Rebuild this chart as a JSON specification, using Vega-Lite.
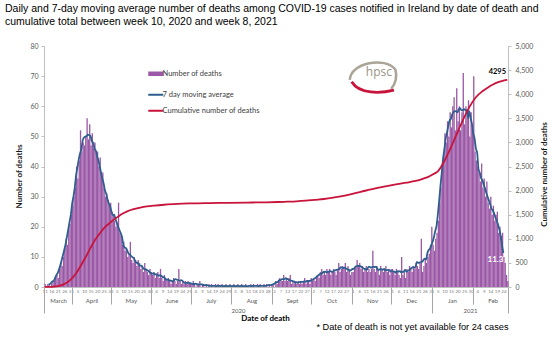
{
"$schema":"https://vega.github.io/schema/vega-lite/v6.json",
"width":464,"height":241,
"autosize":{"type":"none"},
"padding":{"left":44,"top":46,"right":44,"bottom":51},
"background":"white",
"config":{"view":{"stroke":null},"axis":{"grid":false,"labelFont":"Lato","titleFont":"Lato"},"legend":{"labelFont":"Lato"},"text":{"font":"Lato"}},
"title":{"text":["Daily and 7-day moving average number of deaths among COVID-19 cases notified in Ireland by date of death and","cumulative total between week 10, 2020 and week 8, 2021"],"anchor":"start","frame":"group","dx":-39,"offset":15,"font":"Liberation Sans","fontSize":10.5,"fontWeight":"normal","color":"#000000","lineHeight":12.5},
"datasets":{
"daily":[
{"d":"2020-03-11","n":1},{"d":"2020-03-12","n":0},{"d":"2020-03-13","n":1},{"d":"2020-03-14","n":1,"ma":0.9},{"d":"2020-03-15","n":0,"ma":1.0},{"d":"2020-03-16","n":1,"ma":1.4},{"d":"2020-03-17","n":2,"ma":1.9},{"d":"2020-03-18","n":2,"ma":2.1},{"d":"2020-03-19","n":3,"ma":3.0},{"d":"2020-03-20","n":4,"ma":4.0},{"d":"2020-03-21","n":3,"ma":4.7},{"d":"2020-03-22","n":6,"ma":5.9},{"d":"2020-03-23","n":8,"ma":7.3},{"d":"2020-03-24","n":7,"ma":9.0},{"d":"2020-03-25","n":10,"ma":10.6},{"d":"2020-03-26","n":13,"ma":12.4},{"d":"2020-03-27","n":16,"ma":14.3},{"d":"2020-03-28","n":14,"ma":16.7},{"d":"2020-03-29","n":19,"ma":19.1},{"d":"2020-03-30","n":21,"ma":21.6},{"d":"2020-03-31","n":24,"ma":24.0},
{"d":"2020-04-01","n":27,"ma":27.7},{"d":"2020-04-02","n":30,"ma":30.1},{"d":"2020-04-03","n":33,"ma":33.1},{"d":"2020-04-04","n":40,"ma":37.1},{"d":"2020-04-05","n":36,"ma":39.7},{"d":"2020-04-06","n":42,"ma":42.3},{"d":"2020-04-07","n":52,"ma":44.3},{"d":"2020-04-08","n":45,"ma":45.7},{"d":"2020-04-09","n":48,"ma":48.6},{"d":"2020-04-10","n":47,"ma":49.6},{"d":"2020-04-11","n":50,"ma":49.9},{"d":"2020-04-12","n":56,"ma":50.1},{"d":"2020-04-13","n":49,"ma":50.6},{"d":"2020-04-14","n":54,"ma":50.4},{"d":"2020-04-15","n":47,"ma":50.1},{"d":"2020-04-16","n":51,"ma":48.4},{"d":"2020-04-17","n":46,"ma":47.9},{"d":"2020-04-18","n":48,"ma":45.9},{"d":"2020-04-19","n":44,"ma":45.3},{"d":"2020-04-20","n":45,"ma":43.3},{"d":"2020-04-21","n":40,"ma":42.1},{"d":"2020-04-22","n":43,"ma":40.0},{"d":"2020-04-23","n":37,"ma":38.0},{"d":"2020-04-24","n":38,"ma":36.0},{"d":"2020-04-25","n":33,"ma":34.4},{"d":"2020-04-26","n":30,"ma":32.1},{"d":"2020-04-27","n":31,"ma":30.9},{"d":"2020-04-28","n":29,"ma":29.0},{"d":"2020-04-29","n":27,"ma":27.7},{"d":"2020-04-30","n":28,"ma":26.6},
{"d":"2020-05-01","n":25,"ma":25.0},{"d":"2020-05-02","n":24,"ma":23.9},{"d":"2020-05-03","n":22,"ma":24.0},{"d":"2020-05-04","n":20,"ma":22.6},{"d":"2020-05-05","n":21,"ma":21.4},{"d":"2020-05-06","n":28,"ma":20.0},{"d":"2020-05-07","n":18,"ma":19.0},{"d":"2020-05-08","n":17,"ma":17.9},{"d":"2020-05-09","n":14,"ma":16.7},{"d":"2020-05-10","n":15,"ma":14.1},{"d":"2020-05-11","n":12,"ma":13.1},{"d":"2020-05-12","n":13,"ma":12.9},{"d":"2020-05-13","n":10,"ma":12.1},{"d":"2020-05-14","n":11,"ma":11.1},{"d":"2020-05-15","n":15,"ma":10.9},{"d":"2020-05-16","n":9,"ma":10.3},{"d":"2020-05-17","n":8,"ma":9.9},{"d":"2020-05-18","n":10,"ma":9.6},{"d":"2020-05-19","n":9,"ma":8.6},{"d":"2020-05-20","n":7,"ma":8.1},{"d":"2020-05-21","n":9,"ma":8.0},{"d":"2020-05-22","n":8,"ma":7.3},{"d":"2020-05-23","n":6,"ma":7.1},{"d":"2020-05-24","n":7,"ma":7.0},{"d":"2020-05-25","n":5,"ma":6.4},{"d":"2020-05-26","n":8,"ma":5.9},{"d":"2020-05-27","n":6,"ma":5.9},{"d":"2020-05-28","n":5,"ma":5.6},{"d":"2020-05-29","n":4,"ma":5.4},{"d":"2020-05-30","n":6,"ma":5.0},{"d":"2020-05-31","n":5,"ma":4.6},
{"d":"2020-06-01","n":4,"ma":4.4},{"d":"2020-06-02","n":5,"ma":4.6},{"d":"2020-06-03","n":3,"ma":4.1},{"d":"2020-06-04","n":4,"ma":4.3},{"d":"2020-06-05","n":5,"ma":4.1},{"d":"2020-06-06","n":3,"ma":3.7},{"d":"2020-06-07","n":6,"ma":3.9},{"d":"2020-06-08","n":3,"ma":3.7},{"d":"2020-06-09","n":2,"ma":3.3},{"d":"2020-06-10","n":4,"ma":3.3},{"d":"2020-06-11","n":3,"ma":2.7},{"d":"2020-06-12","n":2,"ma":2.4},{"d":"2020-06-13","n":3,"ma":2.4},{"d":"2020-06-14","n":2,"ma":2.3},{"d":"2020-06-15","n":1,"ma":2.1},{"d":"2020-06-16","n":2,"ma":2.0},{"d":"2020-06-17","n":3,"ma":1.9},{"d":"2020-06-18","n":2,"ma":2.4},{"d":"2020-06-19","n":1,"ma":2.6},{"d":"2020-06-20","n":2,"ma":2.4},{"d":"2020-06-21","n":6,"ma":2.3},{"d":"2020-06-22","n":2,"ma":2.1},{"d":"2020-06-23","n":1,"ma":2.3},{"d":"2020-06-24","n":2,"ma":2.1},{"d":"2020-06-25","n":1,"ma":1.6},{"d":"2020-06-26","n":2,"ma":1.4},{"d":"2020-06-27","n":1,"ma":1.4},{"d":"2020-06-28","n":2,"ma":1.3},{"d":"2020-06-29","n":1,"ma":1.4},{"d":"2020-06-30","n":1,"ma":1.3},
{"d":"2020-07-01","n":1,"ma":1.1},{"d":"2020-07-02","n":2,"ma":1.0},{"d":"2020-07-03","n":1,"ma":1.0},{"d":"2020-07-04","n":0,"ma":1.1},{"d":"2020-07-05","n":1,"ma":1.0},{"d":"2020-07-06","n":1,"ma":0.9},{"d":"2020-07-07","n":2,"ma":0.9},{"d":"2020-07-08","n":0,"ma":0.9},{"d":"2020-07-09","n":1,"ma":0.9},{"d":"2020-07-10","n":1,"ma":0.7},{"d":"2020-07-11","n":0,"ma":0.6},{"d":"2020-07-12","n":1,"ma":0.6},{"d":"2020-07-13","n":0,"ma":0.6},{"d":"2020-07-14","n":1,"ma":0.4},{"d":"2020-07-15","n":0,"ma":0.4},{"d":"2020-07-16","n":1,"ma":0.4},{"d":"2020-07-17","n":0,"ma":0.4},{"d":"2020-07-18","n":0,"ma":0.4},{"d":"2020-07-19","n":1,"ma":0.4},{"d":"2020-07-20","n":0,"ma":0.3},{"d":"2020-07-21","n":1,"ma":0.4},{"d":"2020-07-22","n":0,"ma":0.4},{"d":"2020-07-23","n":0,"ma":0.3},{"d":"2020-07-24","n":1,"ma":0.4},{"d":"2020-07-25","n":0,"ma":0.3},{"d":"2020-07-26","n":0,"ma":0.3},{"d":"2020-07-27","n":1,"ma":0.4},{"d":"2020-07-28","n":0,"ma":0.3},{"d":"2020-07-29","n":0,"ma":0.3},{"d":"2020-07-30","n":1,"ma":0.4},{"d":"2020-07-31","n":0,"ma":0.3},
{"d":"2020-08-01","n":0,"ma":0.3},{"d":"2020-08-02","n":1,"ma":0.4},{"d":"2020-08-03","n":0,"ma":0.3},{"d":"2020-08-04","n":0,"ma":0.3},{"d":"2020-08-05","n":1,"ma":0.4},{"d":"2020-08-06","n":0,"ma":0.3},{"d":"2020-08-07","n":0,"ma":0.3},{"d":"2020-08-08","n":1,"ma":0.4},{"d":"2020-08-09","n":0,"ma":0.3},{"d":"2020-08-10","n":0,"ma":0.3},{"d":"2020-08-11","n":1,"ma":0.3},{"d":"2020-08-12","n":0,"ma":0.3},{"d":"2020-08-13","n":0,"ma":0.3},{"d":"2020-08-14","n":0,"ma":0.4},{"d":"2020-08-15","n":1,"ma":0.3},{"d":"2020-08-16","n":0,"ma":0.3},{"d":"2020-08-17","n":1,"ma":0.4},{"d":"2020-08-18","n":0,"ma":0.4},{"d":"2020-08-19","n":0,"ma":0.4},{"d":"2020-08-20","n":1,"ma":0.4},{"d":"2020-08-21","n":0,"ma":0.3},{"d":"2020-08-22","n":1,"ma":0.4},{"d":"2020-08-23","n":0,"ma":0.4},{"d":"2020-08-24","n":0,"ma":0.4},{"d":"2020-08-25","n":1,"ma":0.4},{"d":"2020-08-26","n":0,"ma":0.4},{"d":"2020-08-27","n":1,"ma":0.4},{"d":"2020-08-28","n":0,"ma":0.6},{"d":"2020-08-29","n":1,"ma":0.6},{"d":"2020-08-30","n":0,"ma":0.6},{"d":"2020-08-31","n":1,"ma":0.7},
{"d":"2020-09-01","n":1,"ma":0.9},{"d":"2020-09-02","n":0,"ma":1.0},{"d":"2020-09-03","n":2,"ma":1.4},{"d":"2020-09-04","n":1,"ma":1.6},{"d":"2020-09-05","n":2,"ma":1.7},{"d":"2020-09-06","n":3,"ma":2.3},{"d":"2020-09-07","n":2,"ma":2.3},{"d":"2020-09-08","n":2,"ma":2.6},{"d":"2020-09-09","n":4,"ma":2.6},{"d":"2020-09-10","n":2,"ma":2.6},{"d":"2020-09-11","n":3,"ma":2.9},{"d":"2020-09-12","n":2,"ma":2.7},{"d":"2020-09-13","n":3,"ma":2.4},{"d":"2020-09-14","n":4,"ma":2.3},{"d":"2020-09-15","n":1,"ma":2.1},{"d":"2020-09-16","n":2,"ma":2.0},{"d":"2020-09-17","n":1,"ma":1.9},{"d":"2020-09-18","n":2,"ma":1.4},{"d":"2020-09-19","n":1,"ma":1.6},{"d":"2020-09-20","n":2,"ma":1.4},{"d":"2020-09-21","n":1,"ma":1.6},{"d":"2020-09-22","n":2,"ma":1.7},{"d":"2020-09-23","n":1,"ma":1.7},{"d":"2020-09-24","n":2,"ma":1.7},{"d":"2020-09-25","n":3,"ma":1.9},{"d":"2020-09-26","n":1,"ma":1.7},{"d":"2020-09-27","n":2,"ma":2.0},{"d":"2020-09-28","n":2,"ma":2.0},{"d":"2020-09-29","n":1,"ma":2.0},{"d":"2020-09-30","n":3,"ma":2.1},
{"d":"2020-10-01","n":2,"ma":2.3},{"d":"2020-10-02","n":3,"ma":2.6},{"d":"2020-10-03","n":2,"ma":2.9},{"d":"2020-10-04","n":3,"ma":3.1},{"d":"2020-10-05","n":4,"ma":3.7},{"d":"2020-10-06","n":3,"ma":3.9},{"d":"2020-10-07","n":5,"ma":4.3},{"d":"2020-10-08","n":6,"ma":4.4},{"d":"2020-10-09","n":4,"ma":4.7},{"d":"2020-10-10","n":5,"ma":5.0},{"d":"2020-10-11","n":4,"ma":5.1},{"d":"2020-10-12","n":6,"ma":4.9},{"d":"2020-10-13","n":5,"ma":5.0},{"d":"2020-10-14","n":6,"ma":5.1},{"d":"2020-10-15","n":4,"ma":5.3},{"d":"2020-10-16","n":5,"ma":5.0},{"d":"2020-10-17","n":6,"ma":5.1},{"d":"2020-10-18","n":5,"ma":5.4},{"d":"2020-10-19","n":4,"ma":5.6},{"d":"2020-10-20","n":6,"ma":5.7},{"d":"2020-10-21","n":8,"ma":5.9},{"d":"2020-10-22","n":5,"ma":6.0},{"d":"2020-10-23","n":6,"ma":6.6},{"d":"2020-10-24","n":7,"ma":6.4},{"d":"2020-10-25","n":6,"ma":6.3},{"d":"2020-10-26","n":8,"ma":6.4},{"d":"2020-10-27","n":5,"ma":6.1},{"d":"2020-10-28","n":7,"ma":5.9},{"d":"2020-10-29","n":6,"ma":5.7},{"d":"2020-10-30","n":4,"ma":5.4},{"d":"2020-10-31","n":5,"ma":5.7},
{"d":"2020-11-01","n":5,"ma":6.0},{"d":"2020-11-02","n":6,"ma":6.1},{"d":"2020-11-03","n":7,"ma":6.7},{"d":"2020-11-04","n":9,"ma":6.9},{"d":"2020-11-05","n":7,"ma":7.1},{"d":"2020-11-06","n":8,"ma":7.0},{"d":"2020-11-07","n":6,"ma":6.9},{"d":"2020-11-08","n":7,"ma":6.6},{"d":"2020-11-09","n":5,"ma":6.3},{"d":"2020-11-10","n":6,"ma":6.0},{"d":"2020-11-11","n":7,"ma":5.9},{"d":"2020-11-12","n":5,"ma":5.7},{"d":"2020-11-13","n":6,"ma":6.7},{"d":"2020-11-14","n":5,"ma":6.7},{"d":"2020-11-15","n":6,"ma":6.4},{"d":"2020-11-16","n":12,"ma":6.7},{"d":"2020-11-17","n":6,"ma":6.7},{"d":"2020-11-18","n":5,"ma":6.6},{"d":"2020-11-19","n":7,"ma":6.7},{"d":"2020-11-20","n":6,"ma":5.9},{"d":"2020-11-21","n":4,"ma":5.7},{"d":"2020-11-22","n":7,"ma":5.9},{"d":"2020-11-23","n":6,"ma":5.9},{"d":"2020-11-24","n":5,"ma":5.7},{"d":"2020-11-25","n":6,"ma":6.0},{"d":"2020-11-26","n":7,"ma":5.6},{"d":"2020-11-27","n":5,"ma":5.6},{"d":"2020-11-28","n":6,"ma":5.7},{"d":"2020-11-29","n":4,"ma":5.6},{"d":"2020-11-30","n":6,"ma":5.1},
{"d":"2020-12-01","n":6,"ma":5.3},{"d":"2020-12-02","n":5,"ma":5.1},{"d":"2020-12-03","n":4,"ma":5.1},{"d":"2020-12-04","n":6,"ma":4.7},{"d":"2020-12-05","n":5,"ma":5.3},{"d":"2020-12-06","n":4,"ma":5.1},{"d":"2020-12-07","n":3,"ma":5.3},{"d":"2020-12-08","n":10,"ma":4.9},{"d":"2020-12-09","n":4,"ma":5.0},{"d":"2020-12-10","n":5,"ma":5.1},{"d":"2020-12-11","n":3,"ma":5.7},{"d":"2020-12-12","n":6,"ma":5.1},{"d":"2020-12-13","n":5,"ma":5.3},{"d":"2020-12-14","n":7,"ma":5.6},{"d":"2020-12-15","n":6,"ma":6.0},{"d":"2020-12-16","n":5,"ma":6.3},{"d":"2020-12-17","n":7,"ma":6.6},{"d":"2020-12-18","n":6,"ma":6.4},{"d":"2020-12-19","n":8,"ma":6.7},{"d":"2020-12-20","n":7,"ma":8.3},{"d":"2020-12-21","n":6,"ma":8.0},{"d":"2020-12-22","n":8,"ma":8.1},{"d":"2020-12-23","n":16,"ma":8.3},{"d":"2020-12-24","n":5,"ma":8.4},{"d":"2020-12-25","n":7,"ma":9.0},{"d":"2020-12-26","n":9,"ma":9.4},{"d":"2020-12-27","n":8,"ma":9.1},{"d":"2020-12-28","n":10,"ma":11.3},{"d":"2020-12-29","n":11,"ma":12.3},{"d":"2020-12-30","n":14,"ma":12.7},{"d":"2020-12-31","n":20,"ma":13.9},
{"d":"2021-01-01","n":14,"ma":15.0},{"d":"2021-01-02","n":12,"ma":16.6},{"d":"2021-01-03","n":16,"ma":18.6},{"d":"2021-01-04","n":18,"ma":20.4},{"d":"2021-01-05","n":22,"ma":24.1},{"d":"2021-01-06","n":28,"ma":28.7},{"d":"2021-01-07","n":33,"ma":33.7},{"d":"2021-01-08","n":40,"ma":38.0},{"d":"2021-01-09","n":44,"ma":42.7},{"d":"2021-01-10","n":51,"ma":45.9},{"d":"2021-01-11","n":48,"ma":49.4},{"d":"2021-01-12","n":55,"ma":51.3},{"d":"2021-01-13","n":50,"ma":53.6},{"d":"2021-01-14","n":58,"ma":55.3},{"d":"2021-01-15","n":53,"ma":55.9},{"d":"2021-01-16","n":60,"ma":57.4},{"d":"2021-01-17","n":63,"ma":58.1},{"d":"2021-01-18","n":52,"ma":58.4},{"d":"2021-01-19","n":66,"ma":58.3},{"d":"2021-01-20","n":55,"ma":58.0},{"d":"2021-01-21","n":60,"ma":59.1},{"d":"2021-01-22","n":52,"ma":59.4},{"d":"2021-01-23","n":58,"ma":58.6},{"d":"2021-01-24","n":71,"ma":58.7},{"d":"2021-01-25","n":54,"ma":59.0},{"d":"2021-01-26","n":60,"ma":58.7},{"d":"2021-01-27","n":56,"ma":58.7},{"d":"2021-01-28","n":62,"ma":56.0},{"d":"2021-01-29","n":50,"ma":58.3},{"d":"2021-01-30","n":58,"ma":56.1},{"d":"2021-01-31","n":52,"ma":54.1},
{"d":"2021-02-01","n":70,"ma":51.0},{"d":"2021-02-02","n":45,"ma":49.3},{"d":"2021-02-03","n":42,"ma":46.0},{"d":"2021-02-04","n":40,"ma":44.4},{"d":"2021-02-05","n":38,"ma":39.1},{"d":"2021-02-06","n":35,"ma":37.9},{"d":"2021-02-07","n":41,"ma":36.1},{"d":"2021-02-08","n":33,"ma":35.4},{"d":"2021-02-09","n":36,"ma":34.0},{"d":"2021-02-10","n":30,"ma":32.7},{"d":"2021-02-11","n":35,"ma":31.1},{"d":"2021-02-12","n":28,"ma":29.9},{"d":"2021-02-13","n":26,"ma":28.6},{"d":"2021-02-14","n":30,"ma":27.4},{"d":"2021-02-15","n":24,"ma":25.9},{"d":"2021-02-16","n":27,"ma":25.4},{"d":"2021-02-17","n":22,"ma":24.3},{"d":"2021-02-18","n":24,"ma":22.9},{"d":"2021-02-19","n":25,"ma":21.9},{"d":"2021-02-20","n":18,"ma":20.6},{"d":"2021-02-21","n":20,"ma":18.9},{"d":"2021-02-22","n":17,"ma":16.6},{"d":"2021-02-23","n":18,"ma":13.6},{"d":"2021-02-24","n":10,"ma":11.3},{"d":"2021-02-25","n":8},{"d":"2021-02-26","n":4},{"d":"2021-02-27","n":2}
],
"cum":[
{"d":"2020-03-11","c":1},{"d":"2020-03-15","c":3},{"d":"2020-03-18","c":8},{"d":"2020-03-22","c":24},{"d":"2020-03-25","c":49},{"d":"2020-03-29","c":111},{"d":"2020-04-01","c":183},{"d":"2020-04-04","c":286},{"d":"2020-04-08","c":461},{"d":"2020-04-11","c":606},{"d":"2020-04-15","c":812},{"d":"2020-04-18","c":957},{"d":"2020-04-22","c":1110},{"d":"2020-04-26","c":1240},{"d":"2020-04-30","c":1335},{"d":"2020-05-04","c":1420},{"d":"2020-05-08","c":1500},{"d":"2020-05-13","c":1570},{"d":"2020-05-18","c":1615},{"d":"2020-05-23","c":1648},{"d":"2020-05-28","c":1672},{"d":"2020-06-03","c":1690},{"d":"2020-06-10","c":1706},{"d":"2020-06-17","c":1718},{"d":"2020-06-24","c":1728},{"d":"2020-07-01","c":1735},{"d":"2020-07-15","c":1742},{"d":"2020-07-29","c":1747},{"d":"2020-08-12","c":1752},{"d":"2020-08-26","c":1757},{"d":"2020-09-05","c":1763},{"d":"2020-09-12","c":1770},{"d":"2020-09-19","c":1778},{"d":"2020-09-26","c":1790},{"d":"2020-10-03","c":1808},{"d":"2020-10-10","c":1826},{"d":"2020-10-17","c":1852},{"d":"2020-10-24","c":1885},{"d":"2020-10-31","c":1925},{"d":"2020-11-07","c":1975},{"d":"2020-11-14","c":2018},{"d":"2020-11-21","c":2062},{"d":"2020-11-28","c":2100},{"d":"2020-12-05","c":2135},{"d":"2020-12-12","c":2165},{"d":"2020-12-19","c":2200},{"d":"2020-12-25","c":2250},{"d":"2020-12-29","c":2290},{"d":"2021-01-01","c":2335},{"d":"2021-01-05","c":2400},{"d":"2021-01-09","c":2566},{"d":"2021-01-14","c":2840},{"d":"2021-01-19","c":3149},{"d":"2021-01-24","c":3457},{"d":"2021-01-29","c":3731},{"d":"2021-02-03","c":3937},{"d":"2021-02-08","c":4060},{"d":"2021-02-12","c":4135},{"d":"2021-02-16","c":4200},{"d":"2021-02-20","c":4250},{"d":"2021-02-24","c":4282},{"d":"2021-02-27","c":4295}
],
"notes":[
{"d":"2021-02-27","v":4295,"t":"4295","k":"cum"},
{"d":"2021-02-24","v":11.3,"t":"11.3","k":"ma"},
{"d":"2020-11-21","v":71.5,"t":"hpsc","k":"logo"},
{"d":"2020-11-16","v":69.7,"t":"","k":"ring"}
]
},
"layer":[
{
"data":{"name":"daily"},
"mark":{"type":"bar","binSpacing":0},
"encoding":{
"x":{"field":"d","timeUnit":"utcyearmonthdate","type":"temporal",
"scale":{"domain":[{"year":2020,"month":3,"date":11,"utc":true},{"year":2021,"month":2,"date":28,"utc":true}]},
"axis":{"orient":"bottom","title":null,"ticks":false,"domainColor":"#BFBFBF","labelFontSize":4.5,"labelColor":"#808080","labelPadding":1,"labelOffset":0.7,"labelOverlap":false,"labelFlush":false,"labelExpr":"utcdate(datum.value)",
"values":[{"year":2020,"month":3,"date":11,"utc":true},{"year":2020,"month":3,"date":16,"utc":true},{"year":2020,"month":3,"date":21,"utc":true},{"year":2020,"month":3,"date":26,"utc":true},{"year":2020,"month":3,"date":31,"utc":true},
{"year":2020,"month":4,"date":5,"utc":true},{"year":2020,"month":4,"date":10,"utc":true},{"year":2020,"month":4,"date":15,"utc":true},{"year":2020,"month":4,"date":20,"utc":true},{"year":2020,"month":4,"date":25,"utc":true},{"year":2020,"month":4,"date":30,"utc":true},
{"year":2020,"month":5,"date":5,"utc":true},{"year":2020,"month":5,"date":10,"utc":true},{"year":2020,"month":5,"date":15,"utc":true},{"year":2020,"month":5,"date":20,"utc":true},{"year":2020,"month":5,"date":25,"utc":true},{"year":2020,"month":5,"date":30,"utc":true},
{"year":2020,"month":6,"date":4,"utc":true},{"year":2020,"month":6,"date":9,"utc":true},{"year":2020,"month":6,"date":14,"utc":true},{"year":2020,"month":6,"date":19,"utc":true},{"year":2020,"month":6,"date":24,"utc":true},{"year":2020,"month":6,"date":29,"utc":true},
{"year":2020,"month":7,"date":4,"utc":true},{"year":2020,"month":7,"date":9,"utc":true},{"year":2020,"month":7,"date":14,"utc":true},{"year":2020,"month":7,"date":19,"utc":true},{"year":2020,"month":7,"date":24,"utc":true},{"year":2020,"month":7,"date":29,"utc":true},
{"year":2020,"month":8,"date":3,"utc":true},{"year":2020,"month":8,"date":8,"utc":true},{"year":2020,"month":8,"date":13,"utc":true},{"year":2020,"month":8,"date":18,"utc":true},{"year":2020,"month":8,"date":23,"utc":true},{"year":2020,"month":8,"date":28,"utc":true},
{"year":2020,"month":9,"date":2,"utc":true},{"year":2020,"month":9,"date":7,"utc":true},{"year":2020,"month":9,"date":12,"utc":true},{"year":2020,"month":9,"date":17,"utc":true},{"year":2020,"month":9,"date":22,"utc":true},{"year":2020,"month":9,"date":27,"utc":true},
{"year":2020,"month":10,"date":2,"utc":true},{"year":2020,"month":10,"date":7,"utc":true},{"year":2020,"month":10,"date":12,"utc":true},{"year":2020,"month":10,"date":17,"utc":true},{"year":2020,"month":10,"date":22,"utc":true},{"year":2020,"month":10,"date":27,"utc":true},
{"year":2020,"month":11,"date":1,"utc":true},{"year":2020,"month":11,"date":6,"utc":true},{"year":2020,"month":11,"date":11,"utc":true},{"year":2020,"month":11,"date":16,"utc":true},{"year":2020,"month":11,"date":21,"utc":true},{"year":2020,"month":11,"date":26,"utc":true},
{"year":2020,"month":12,"date":1,"utc":true},{"year":2020,"month":12,"date":6,"utc":true},{"year":2020,"month":12,"date":11,"utc":true},{"year":2020,"month":12,"date":16,"utc":true},{"year":2020,"month":12,"date":21,"utc":true},{"year":2020,"month":12,"date":26,"utc":true},{"year":2020,"month":12,"date":31,"utc":true},
{"year":2021,"month":1,"date":5,"utc":true},{"year":2021,"month":1,"date":10,"utc":true},{"year":2021,"month":1,"date":15,"utc":true},{"year":2021,"month":1,"date":20,"utc":true},{"year":2021,"month":1,"date":25,"utc":true},{"year":2021,"month":1,"date":30,"utc":true},
{"year":2021,"month":2,"date":4,"utc":true},{"year":2021,"month":2,"date":9,"utc":true},{"year":2021,"month":2,"date":14,"utc":true},{"year":2021,"month":2,"date":19,"utc":true},{"year":2021,"month":2,"date":24,"utc":true}]}},
"y":{"field":"n","type":"quantitative","scale":{"domain":[0,80]},
"axis":{"orient":"left","values":[0,10,20,30,40,50,60,70,80],"labelFontSize":7,"labelColor":"#595959","labelPadding":3,"tickSize":3,"tickColor":"#BFBFBF","domainColor":"#BFBFBF","title":"Number of deaths","titleFontSize":8,"titleFontWeight":"bold","titleColor":"#1A1A1A","titlePadding":6,"titleY":130}},
"color":{"datum":"Number of deaths","scale":{"domain":["Number of deaths","7 day moving average","Cumulative number of deaths"],"range":["#9B58A6","#2E5E8E","#C8133B"]},
"legend":{"orient":"none","legendX":108,"legendY":24,"title":null,"padding":0,"symbolType":"stroke","symbolSize":225,"symbolStrokeWidth":2,"labelFontSize":7.5,"labelColor":"#404040","labelOffset":3,"rowPadding":7,
"encode":{"symbols":{"update":{"stroke":{"scale":"color","field":"value"},"strokeWidth":{"signal":"datum.value === 'Number of deaths' ? 4.5 : 2"}}}}}}
}
},
{
"data":{"name":"daily"},
"transform":[{"filter":"isValid(datum.ma)"}],
"mark":{"type":"line","strokeWidth":1.8,"interpolate":"monotone"},
"encoding":{
"x":{"field":"d","timeUnit":"utcyearmonthdate","type":"temporal","bandPosition":0.5,
"axis":{"orient":"bottom","title":null,"domain":false,"tickSize":17,"tickColor":"#A6A6A6","labelFontSize":6,"labelColor":"#595959","labelPadding":-7,"labelBaseline":"top","labelFlush":false,"labelOverlap":false,
"labelOffset":{"condition":{"test":"utcmonth(datum.value)==2","value":14},"value":20},
"labelExpr":"['Jan','Feb','March','April','May','June','July','Aug','Sept','Oct','Nov','Dec'][utcmonth(datum.value)]",
"values":[{"year":2020,"month":3,"date":11,"utc":true},{"year":2020,"month":4,"date":1,"utc":true},{"year":2020,"month":5,"date":1,"utc":true},{"year":2020,"month":6,"date":1,"utc":true},{"year":2020,"month":7,"date":1,"utc":true},{"year":2020,"month":8,"date":1,"utc":true},{"year":2020,"month":9,"date":1,"utc":true},{"year":2020,"month":10,"date":1,"utc":true},{"year":2020,"month":11,"date":1,"utc":true},{"year":2020,"month":12,"date":1,"utc":true},{"year":2021,"month":1,"date":1,"utc":true},{"year":2021,"month":2,"date":1,"utc":true}]}},
"y":{"field":"ma","type":"quantitative","scale":{"domain":[0,80]},"axis":null},
"color":{"datum":"7 day moving average"}
}
},
{
"data":{"name":"cum"},
"mark":{"type":"line","strokeWidth":1.8,"interpolate":"monotone"},
"encoding":{
"x":{"field":"d","timeUnit":"utcyearmonthdate","type":"temporal","bandPosition":0.5,
"axis":{"orient":"bottom","domain":false,"tickSize":26,"tickColor":"#A6A6A6","labelFontSize":6,"labelColor":"#595959","labelPadding":-6,"labelBaseline":"top","labelFlush":false,"labelOverlap":false,
"labelOffset":{"condition":{"test":"utcyear(datum.value)==2020","value":194},"value":38},
"labelExpr":"utcyear(datum.value)==2020 ? '2020' : (utcmonth(datum.value)==0 ? '2021' : '')",
"values":[{"year":2020,"month":3,"date":11,"utc":true},{"year":2021,"month":1,"date":1,"utc":true},{"year":2021,"month":2,"date":28,"utc":true}],
"title":"Date of death","titleFontSize":8,"titleFontWeight":"bold","titleColor":"#000000","titlePadding":1,"titleX":221}},
"y":{"field":"c","type":"quantitative","scale":{"domain":[0,5000]},
"axis":{"orient":"right","values":[0,500,1000,1500,2000,2500,3000,3500,4000,4500,5000],"format":",.0f","labelFontSize":7,"labelColor":"#595959","labelPadding":4,"tickSize":3,"tickColor":"#BFBFBF","domainColor":"#BFBFBF","title":"Cumulative number of deaths","titleFontSize":8,"titleFontWeight":"bold","titleColor":"#1A1A1A","titlePadding":8,"titleAngle":-90,"titleBaseline":"top","titleY":128}},
"color":{"datum":"Cumulative number of deaths"}
}
},
{
"data":{"name":"notes"},
"transform":[{"filter":"datum.k=='cum'"}],
"mark":{"type":"text","fontWeight":"bold","fontSize":7.5,"dx":-10,"dy":-8,"color":"#000000"},
"encoding":{
"x":{"field":"d","timeUnit":"utcyearmonthdate","type":"temporal","bandPosition":0.5,
"axis":{"orient":"bottom","domain":false,"ticks":false,"labels":false,"title":"* Date of death is not yet available for 24 cases","titleFont":"Liberation Sans","titleFontSize":9.2,"titleFontWeight":"normal","titleColor":"#000000","titleAnchor":"end","titlePadding":35}},
"y":{"field":"v","type":"quantitative","scale":{"domain":[0,5000]},"axis":null},
"text":{"field":"t"}
}
},
{
"data":{"name":"notes"},
"transform":[{"filter":"datum.k=='ma'"}],
"mark":{"type":"text","fontWeight":"bold","fontSize":8,"dx":-8,"dy":7,"color":"#FFFFFF"},
"encoding":{
"x":{"field":"d","timeUnit":"utcyearmonthdate","type":"temporal","bandPosition":0.5,"axis":null},
"y":{"field":"v","type":"quantitative","scale":{"domain":[0,80]},"axis":null},
"text":{"field":"t"}
}
},
{
"data":{"name":"notes"},
"transform":[{"filter":"datum.k=='ring'"}],
"mark":{"type":"point","shape":"M -0.96 0.12 C -0.92 -0.62 0.55 -0.88 0.98 -0.32 C 1.06 -0.05 1.0 0.3 0.8 0.5","size":2209,"filled":false,"stroke":"#ABA597","strokeWidth":2.5,"opacity":1},
"encoding":{
"x":{"field":"d","timeUnit":"utcyearmonthdate","type":"temporal","bandPosition":0.5,"axis":null},
"y":{"field":"v","type":"quantitative","scale":{"domain":[0,80]},"axis":null}
}
},
{
"data":{"name":"notes"},
"transform":[{"filter":"datum.k=='ring'"}],
"mark":{"type":"point","shape":"M -0.88 0.2 C -0.55 0.74 0.35 0.7 0.92 0.56","size":2209,"filled":false,"stroke":"#C8133B","strokeWidth":2.8,"opacity":1},
"encoding":{
"x":{"field":"d","timeUnit":"utcyearmonthdate","type":"temporal","bandPosition":0.5,"axis":null},
"y":{"field":"v","type":"quantitative","scale":{"domain":[0,80]},"axis":null}
}
},
{
"data":{"name":"notes"},
"transform":[{"filter":"datum.k=='logo'"}],
"mark":{"type":"text","fontSize":12,"font":"Open Sans","color":"#9A9485"},
"encoding":{
"x":{"field":"d","timeUnit":"utcyearmonthdate","type":"temporal","bandPosition":0.5,"axis":null},
"y":{"field":"v","type":"quantitative","scale":{"domain":[0,80]},"axis":null},
"text":{"field":"t"}
}
}
],
"resolve":{"scale":{"y":"independent"},"axis":{"x":"independent"}}
}
